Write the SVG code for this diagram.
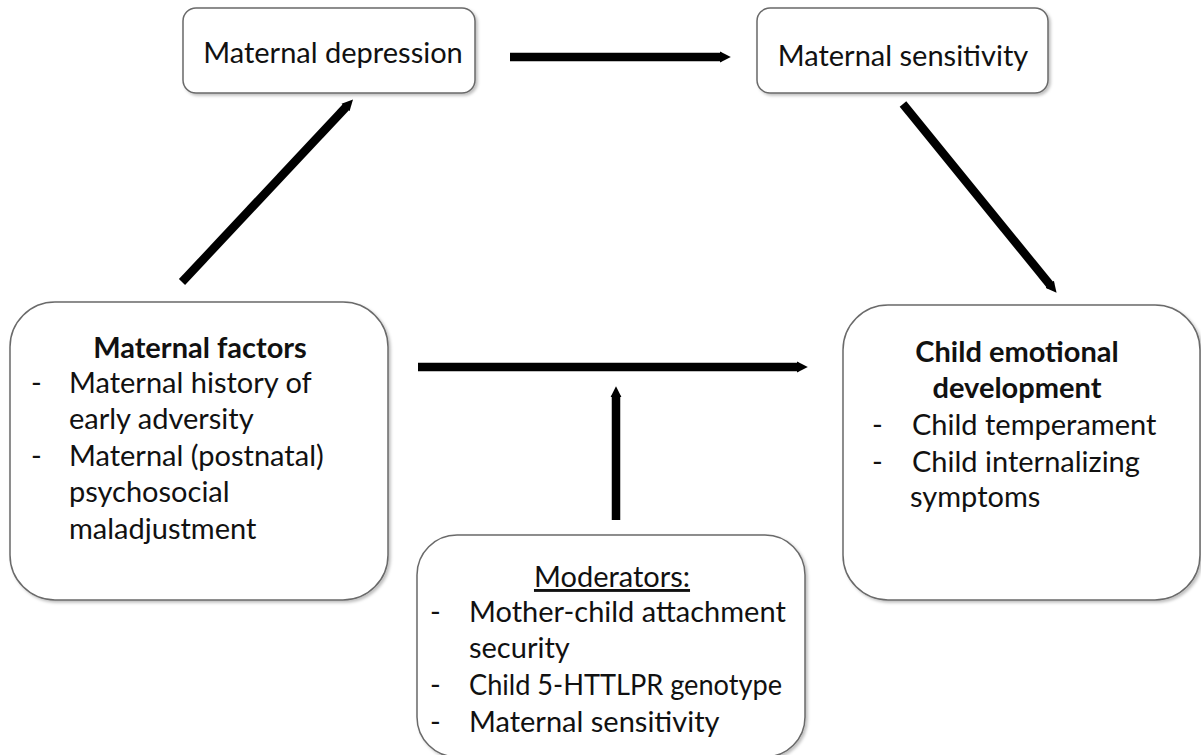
<svg xmlns="http://www.w3.org/2000/svg" width="1201" height="755" viewBox="0 0 1201 755">
<defs>
<filter id="sh" x="-10%" y="-10%" width="130%" height="130%">
<feDropShadow dx="2" dy="2" stdDeviation="1.5" flood-color="#000" flood-opacity="0.25"/>
</filter>
<marker id="ah" viewBox="0 0 10 10" refX="2" refY="5" markerUnits="userSpaceOnUse" markerWidth="11" markerHeight="19" orient="auto">
<path d="M0,0 L10,5 L0,10 Z" fill="#000"/>
</marker>
<style>
.box{fill:#fff;stroke:#6a6a6a;stroke-width:1.5;filter:url(#sh)}
.t{font-family:Lato,"Open Sans","Liberation Sans",sans-serif;font-size:29px;fill:#111}
.b{font-weight:bold}
.c{text-anchor:middle}
.ar{stroke:#000;stroke-width:8.5;fill:none;marker-end:url(#ah)}
</style>
</defs>
<rect width="1201" height="755" fill="#fff"/>
<g id="connectors">
<line class="ar" x1="510" y1="57" x2="722" y2="57"/>
<line class="ar" x1="182" y1="282" x2="347" y2="106"/>
<line class="ar" x1="903" y1="104" x2="1051" y2="286"/>
<line class="ar" x1="418" y1="367" x2="799" y2="367"/>
<line class="ar" x1="616" y1="520" x2="616" y2="395"/>
</g>
<g id="maternal-depression">
<rect class="box" x="183" y="8" width="292" height="85" rx="13"/>
<text class="t c" x="333" y="63">Maternal depression</text>
</g>
<g id="maternal-sensitivity">
<rect class="box" x="757" y="8" width="291" height="85" rx="13"/>
<text class="t c" x="903" y="66">Maternal sensitivity</text>
</g>
<g id="maternal-factors">
<rect class="box" x="10" y="302" width="378" height="298" rx="45"/>
<text class="t b c" x="200" y="358">Maternal factors</text>
<text class="t" x="31" y="393">-</text><text class="t" x="69" y="393">Maternal history of</text>
<text class="t" x="69" y="429">early adversity</text>
<text class="t" x="31" y="466">-</text><text class="t" x="69" y="466">Maternal (postnatal)</text>
<text class="t" x="69" y="502">psychosocial</text>
<text class="t" x="69" y="539">maladjustment</text>
</g>
<g id="child-emotional-development">
<rect class="box" x="843" y="305" width="357" height="295" rx="45"/>
<text class="t b c" x="1017" y="362">Child emotional</text>
<text class="t b c" x="1017" y="398">development</text>
<text class="t" x="872" y="435">-</text><text class="t" x="912" y="435">Child temperament</text>
<text class="t" x="872" y="472">-</text><text class="t" x="912" y="472">Child internalizing</text>
<text class="t" x="910" y="507">symptoms</text>
</g>
<g id="moderators">
<rect class="box" x="417" y="535" width="388" height="222" rx="40"/>
<text class="t c" x="612" y="587" text-decoration="underline">Moderators:</text>
<text class="t" x="430" y="622">-</text><text class="t" x="469" y="622">Mother-child attachment</text>
<text class="t" x="469" y="658">security</text>
<text class="t" x="430" y="695">-</text><text class="t" x="469" y="695" textLength="313" lengthAdjust="spacingAndGlyphs">Child 5-HTTLPR genotype</text>
<text class="t" x="430" y="732">-</text><text class="t" x="469" y="732">Maternal sensitivity</text>
</g>
</svg>
